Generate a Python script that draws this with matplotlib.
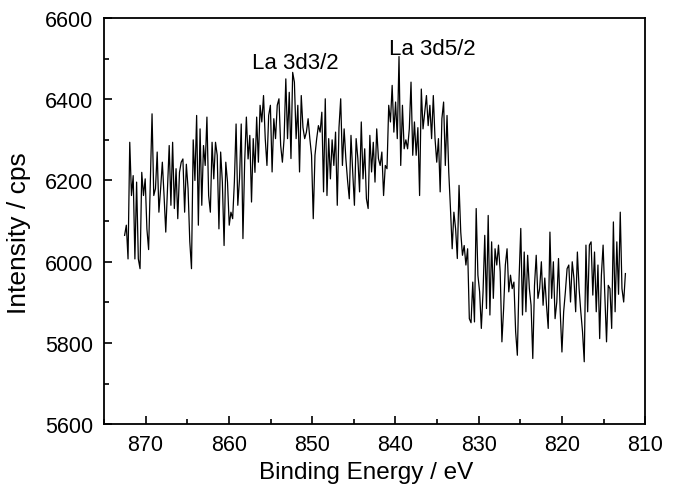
import numpy as np
import matplotlib
matplotlib.use("Agg")
import matplotlib.pyplot as plt
from matplotlib.ticker import MultipleLocator

plt.rcParams['font.family'] = ['Liberation Sans', 'DejaVu Sans']

# XPS La 3d spectrum (binding energy grid in eV, intensity in cps)
energy_start = 872.52
energy_end = 812.39

intensity = [
    # 872.5 .. 865.3
    6065, 6090, 6007, 6294, 6163, 6212, 6007, 6196, 6007, 5983,
    6220, 6163, 6204, 6081, 6030, 6200, 6364, 6163, 6180, 6270,
    6122, 6180, 6245, 6163, 6073, 6180, 6286, 6139, 6294, 6131,
    6229, 6106, 6220, 6245, 6253, 6122,
    # 865.1 .. 856.5
    6240, 6180, 6050, 5983, 6300, 6200, 6360, 6090, 6327, 6139,
    6286, 6237, 6356, 6163, 6122, 6294, 6204, 6294, 6262, 6081,
    6270, 6196, 6040, 6245, 6196, 6090, 6122, 6106, 6196, 6339,
    6139, 6204, 6339, 6057, 6245, 6356, 6253, 6311, 6147, 6303,
    6220, 6356, 6245,
    # 856.3 .. 848.1
    6385, 6344, 6409, 6303, 6237, 6360, 6385, 6221, 6352, 6303,
    6385, 6401, 6286, 6245, 6303, 6450, 6303, 6417, 6254, 6466,
    6442, 6303, 6385, 6221, 6409, 6330, 6303, 6319, 6352, 6303,
    6262, 6106, 6262, 6303, 6335, 6319, 6368, 6172, 6401, 6163,
    6303,
    # 847.9 .. 839.7
    6204, 6300, 6237, 6319, 6139, 6330, 6401, 6237, 6327, 6254,
    6200, 6155, 6311, 6221, 6139, 6303, 6254, 6172, 6344, 6204,
    6278, 6155, 6131, 6311, 6221, 6294, 6196, 6327, 6254, 6237,
    6270, 6163, 6237, 6229, 6385, 6344, 6434, 6319, 6393, 6303,
    6505,
    # 839.5 .. 831.1
    6237, 6385, 6278, 6300, 6278, 6327, 6442, 6262, 6344, 6262,
    6330, 6163, 6425, 6327, 6368, 6409, 6335, 6385, 6303, 6409,
    6303, 6245, 6303, 6172, 6352, 6393, 6237, 6360, 6221, 6131,
    6032, 6122, 6081, 6008, 6188, 6073, 6016, 6040, 5992, 6032,
    5860, 5850,
    # 830.9 .. 822.9
    5950, 5852, 6131, 5967, 5926, 5836, 5926, 6065, 5885, 6114,
    5869, 6049, 5910, 6032, 5992, 6041, 5975, 5803, 5885, 5992,
    6032, 5926, 5967, 5934, 5950, 5828, 5770, 5958, 6082, 5869,
    6024, 5877, 6016, 5934, 5893, 5762, 5942, 6016, 5910, 5934,
    # 822.7 .. 814.6
    6000, 5893, 5960, 5893, 5836, 6073, 5910, 6000, 5860, 5901,
    6008, 5877, 5778, 5877, 5926, 5983, 5992, 5901, 6000, 5959,
    5877, 6024, 5934, 5877, 5828, 5754, 6041, 5877, 6041, 6049,
    5918, 6024, 5877, 5992, 5811, 5967, 6041, 5918, 5803, 5942,
    # 814.4 .. 812.4
    5934, 5836, 6098, 5877, 6049, 5920, 6122, 5934, 5901, 5971,
]

energy = np.linspace(energy_start, energy_end, len(intensity))

peak_labels = ["La 3d3/2", "La 3d5/2"]
peak_pos = [(852.0, 6490), (835.6, 6525)]

fig = plt.figure(figsize=(6.75, 4.85), dpi=100)
ax = fig.add_axes([0.154, 0.123, 0.802, 0.838])

ax.plot(energy, intensity, color='black', linewidth=0.9)

for lab, (x, y) in zip(peak_labels, peak_pos):
    ax.text(x, y, lab, ha='center', va='center', fontsize=16)

ax.set_xlim(875, 810)
ax.set_ylim(5600, 6600)
ax.xaxis.set_major_locator(MultipleLocator(10))
ax.xaxis.set_minor_locator(MultipleLocator(5))
ax.yaxis.set_major_locator(MultipleLocator(200))
ax.yaxis.set_minor_locator(MultipleLocator(100))
ax.tick_params(which='both', direction='in', labelsize=15.5, width=1.2)
ax.tick_params(which='major', length=6)
ax.tick_params(which='minor', length=3.5)
ax.tick_params(axis='x', which='major', pad=7)
ax.tick_params(axis='y', which='major', pad=8)
for sp in ax.spines.values():
    sp.set_linewidth(1.3)

ax.set_xlabel("Binding Energy / eV", fontsize=17.5)
ax.set_ylabel("Intensity / cps", fontsize=19)
ax.xaxis.set_label_coords(0.485, -0.09)
ax.yaxis.set_label_coords(-0.135, 0.473)

fig.savefig("out.png", dpi=100)
